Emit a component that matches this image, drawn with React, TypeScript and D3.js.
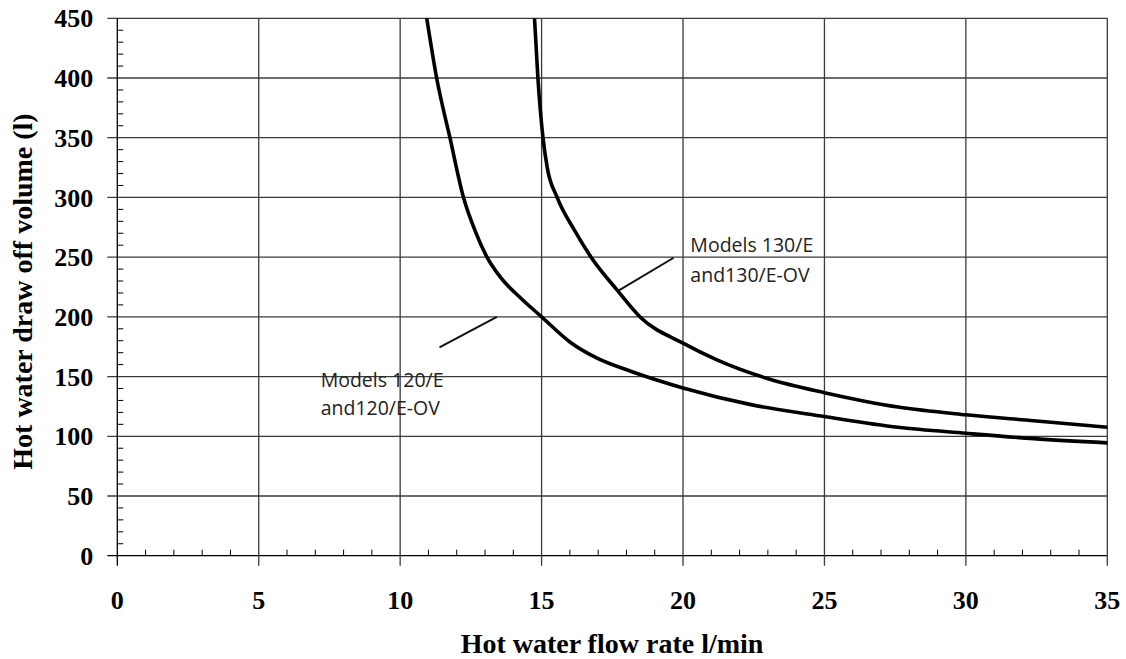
import React from "react";
import * as d3 from "d3";

const xTicks = [0, 5, 10, 15, 20, 25, 30, 35];
const yTicks = [0, 50, 100, 150, 200, 250, 300, 350, 400, 450];

const flow120 = [10.94, 11.29, 11.76, 12.24, 12.65, 13.07, 13.55, 14.25, 15, 16, 17, 18.15, 20, 22.4, 25, 27.6, 30, 32.4, 35];
const vol120 = [450, 400, 350, 300, 272, 250, 233, 216, 200, 179, 165, 154.5, 140.5, 126.5, 116.5, 107.5, 102.5, 98, 94.5];

const flow130 = [14.75, 14.87, 15.05, 15.2, 15.55, 16.15, 16.75, 17.65, 18.5, 20, 21.2, 23.1, 25, 27.6, 30, 32.4, 35];
const vol130 = [450, 400, 350, 325, 300, 273, 250, 223, 199.5, 178, 164, 147.5, 136.5, 124.5, 118, 113, 107.5];

const labels130 = ["Models 130/E", "and130/E-OV"];
const labels120 = ["Models 120/E", "and120/E-OV"];

const W = 1126;
const H = 659;
const M = { left: 117.3, right: 18.7, top: 18.3, bottom: 103.3 };

export default function App() {
  const x = d3.scaleLinear().domain([0, 35]).range([M.left, W - M.right]);
  const y = d3.scaleLinear().domain([0, 450]).range([H - M.bottom, M.top]);
  const line = d3
    .line<[number, number]>()
    .x((d) => x(d[0]))
    .y((d) => y(d[1]))
    .curve(d3.curveMonotoneX);

  const d120 = line(flow120.map((f, i) => [f, vol120[i]] as [number, number])) || "";
  const d130 = line(flow130.map((f, i) => [f, vol130[i]] as [number, number])) || "";

  const xMinor = d3.range(0, 36, 1).filter((v) => v % 5 !== 0);
  const yMinor = d3.range(0, 451, 10).filter((v) => v % 50 !== 0);

  const serif = "'Liberation Serif', 'Times New Roman', serif";
  const sans = "'Open Sans', 'Noto Sans', sans-serif";
  const grid = "#3a3a3a";

  return (
    <svg
      width={W}
      height={H}
      style={{ position: "absolute", left: 0, top: 0, background: "#fff" }}
    >
      <rect x={0} y={0} width={W} height={H} fill="#fff" />
      {/* grid */}
      {yTicks.map((t) => (
        <line key={"gy" + t} x1={x(0) - 10} x2={x(35)} y1={y(t)} y2={y(t)} stroke={t === 0 ? "#000" : grid} strokeWidth={1.3} />
      ))}
      {xTicks.map((t) => (
        <line key={"gx" + t} x1={x(t)} x2={x(t)} y1={y(450)} y2={y(0) + 10} stroke={t === 0 ? "#000" : grid} strokeWidth={1.3} />
      ))}
      {/* minor ticks */}
      {xMinor.map((t) => (
        <line key={"mx" + t} x1={x(t)} x2={x(t)} y1={y(0)} y2={y(0) - 6} stroke="#000" strokeWidth={1} />
      ))}
      {yMinor.map((t) => (
        <line key={"my" + t} x1={x(0)} x2={x(0) + 6} y1={y(t)} y2={y(t)} stroke="#000" strokeWidth={1} />
      ))}
      {/* tick labels */}
      {yTicks.map((t) => (
        <text key={"ly" + t} x={x(0) - 24} y={y(t)} dy="0.35em" textAnchor="end" fontFamily={serif} fontWeight="bold" fontSize={26} fill="#000">
          {t}
        </text>
      ))}
      {xTicks.map((t) => (
        <text key={"lx" + t} x={x(t)} y={609} textAnchor="middle" fontFamily={serif} fontWeight="bold" fontSize={26} fill="#000">
          {t}
        </text>
      ))}
      {/* axis titles */}
      <text x={612} y={653} textAnchor="middle" fontFamily={serif} fontWeight="bold" fontSize={28} fill="#000">
        Hot water flow rate l/min
      </text>
      <text
        transform={`translate(32, ${291.5}) rotate(-90)`}
        textAnchor="middle"
        fontFamily={serif}
        fontWeight="bold"
        fontSize={28}
        fill="#000"
      >
        Hot water draw off volume (l)
      </text>
      {/* curves */}
      <path d={d120} fill="none" stroke="#000" strokeWidth={3.6} strokeLinejoin="round" />
      <path d={d130} fill="none" stroke="#000" strokeWidth={3.6} strokeLinejoin="round" />
      {/* leader lines */}
      <line x1={x(19.67)} y1={y(249.5)} x2={x(17.72)} y2={y(222)} stroke="#111" strokeWidth={2} />
      <line x1={x(13.42)} y1={y(200)} x2={x(11.39)} y2={y(174.5)} stroke="#111" strokeWidth={2} />
      {/* annotations */}
      {labels130.map((s, i) => (
        <text key={"a130" + i} x={x(20.26)} y={252 + i * 29.5} fontFamily={sans} fontSize={19.5} fill="#222">
          {s}
        </text>
      ))}
      {labels120.map((s, i) => (
        <text key={"a120" + i} x={x(7.19)} y={386.7 + i * 28.5} fontFamily={sans} fontSize={19.5} fill="#222">
          {s}
        </text>
      ))}
    </svg>
  );
}
